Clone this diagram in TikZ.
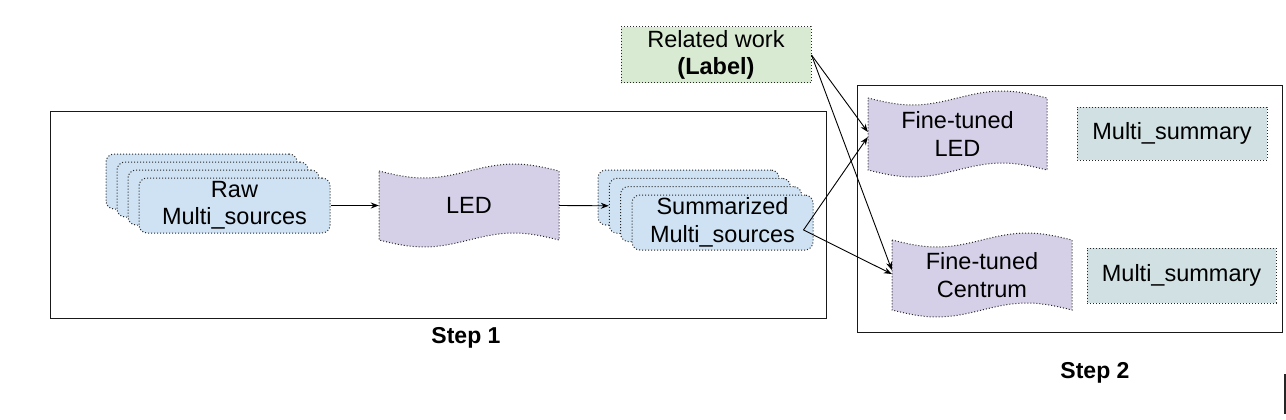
\documentclass[tikz,border=0pt]{standalone}
\usepackage{fontspec}
\setmainfont{Liberation Sans}
\usetikzlibrary{arrows.meta,calc}
\definecolor{stkblue}{HTML}{CFE2F3}
\definecolor{tapepurp}{HTML}{D5D0E7}
\definecolor{sumcyan}{HTML}{D0E0E3}
\definecolor{relgreen}{HTML}{D9EAD3}
\newcommand\tapeshape[6]{%
  \path[fill=tapepurp,draw=black!85,dotted,line width=1pt]
    (#2,#4) sin ({#2+#3/4},{#4+7}) cos ({#2+#3/2},#4) sin ({#2+3*#3/4},{#4-7}) cos ({#2+#3},#4)
    -- ({#2+#3},#5) sin ({#2+3*#3/4},{#5-7}) cos ({#2+#3/2},#5) sin ({#2+#3/4},{#5+7}) cos (#2,#5) -- cycle;
  \node[txt,minimum width={#3*1pt},minimum height={(#5-#4)*1pt},inner sep=0pt] (#1) at ({#2+#3/2},{(#4+#5)/2}) {#6};%
}
\tikzset{
  txt/.style={font=\fontsize{23.5}{27.5}\selectfont,align=center,text=black},
  stk/.style={txt,rectangle,rounded corners=8pt,fill=stkblue,draw=black!85,dotted,line width=1pt,inner sep=0pt},
  flatbox/.style={txt,rectangle,draw=black!85,dotted,line width=1pt,inner sep=0pt},
  stepbox/.style={draw=black!90,line width=1pt},
  conn/.style={-{Stealth[length=8pt,width=6pt]},line width=0.9pt,black},
  steplabel/.style={font=\fontsize{23}{27}\selectfont\bfseries}
}
\begin{document}
\begin{tikzpicture}[x=1pt,y=-1pt]
\useasboundingbox (0,0) rectangle (1286,420);
% step boxes
\draw[stepbox] (50,111) rectangle (826,318);
\draw[stepbox] (857,86) rectangle (1282,332);
\node[steplabel] (st1) at (466,338) {Step 1};
\node[steplabel] (st2) at (1095,373) {Step 2};
\draw[line width=1.6pt,black!85] (1285,374) -- (1285,414);
% raw stack
\foreach \i in {0,1,2} {
  \node[stk,minimum width=191pt,minimum height=55pt] (r\i) at ({106+11*\i+95.5},{154+8*\i+27.5}) {};
}
\node[stk,minimum width=191pt,minimum height=55pt] (raw) at (234.5,205.5) {Raw\\Multi\_sources};
% LED
\tapeshape{led}{379}{180}{171}{240}{LED}
% summarized stack
\foreach \i in {0,1,2} {
  \node[stk,minimum width=181pt,minimum height=55pt] (s\i) at ({598+11.3*\i+90.5},{170+8.3*\i+27.5}) {};
}
\node[stk,minimum width=181pt,minimum height=55pt] (summ) at (722.5,222.5) {Summarized\\Multi\_sources};
% related work
\node[flatbox,fill=relgreen,minimum width=190pt,minimum height=56pt] (rel) at (716,55) {Related work\\\textbf{(Label)}};
% step 2 content
\tapeshape{ftled}{868}{179}{98}{170}{Fine-tuned\\LED}
\tapeshape{ftc}{892}{180}{240}{310}{Fine-tuned\\Centrum}
\node[flatbox,fill=sumcyan,minimum width=190pt,minimum height=53pt] (ms1) at (1172,133.5) {Multi\_summary};
\node[flatbox,fill=sumcyan,minimum width=189pt,minimum height=55pt] (ms2) at (1181.5,275.5) {Multi\_summary};
% connector points
\coordinate (so) at ($(summ.east)+(-10,7.5)$);
\coordinate (ledA) at ($(ftled.west)+(0,-2)$);
\coordinate (ledB) at ($(ftled.west)+(0,3)$);
\coordinate (ftcA) at ($(ftc.west)+(0,-5)$);
\coordinate (ftcB) at ($(ftc.west)+(0,-1)$);
% connectors
\draw[conn] (raw.east) -- (led.west);
\draw[conn] (led.east) -- (s1.west);
\draw[conn] (rel.east) -- (ledA);
\draw[conn] (rel.east) -- (ftcA);
\draw[conn] (so) -- (ledB);
\draw[conn] (so) -- (ftcB);
\end{tikzpicture}
\end{document}
